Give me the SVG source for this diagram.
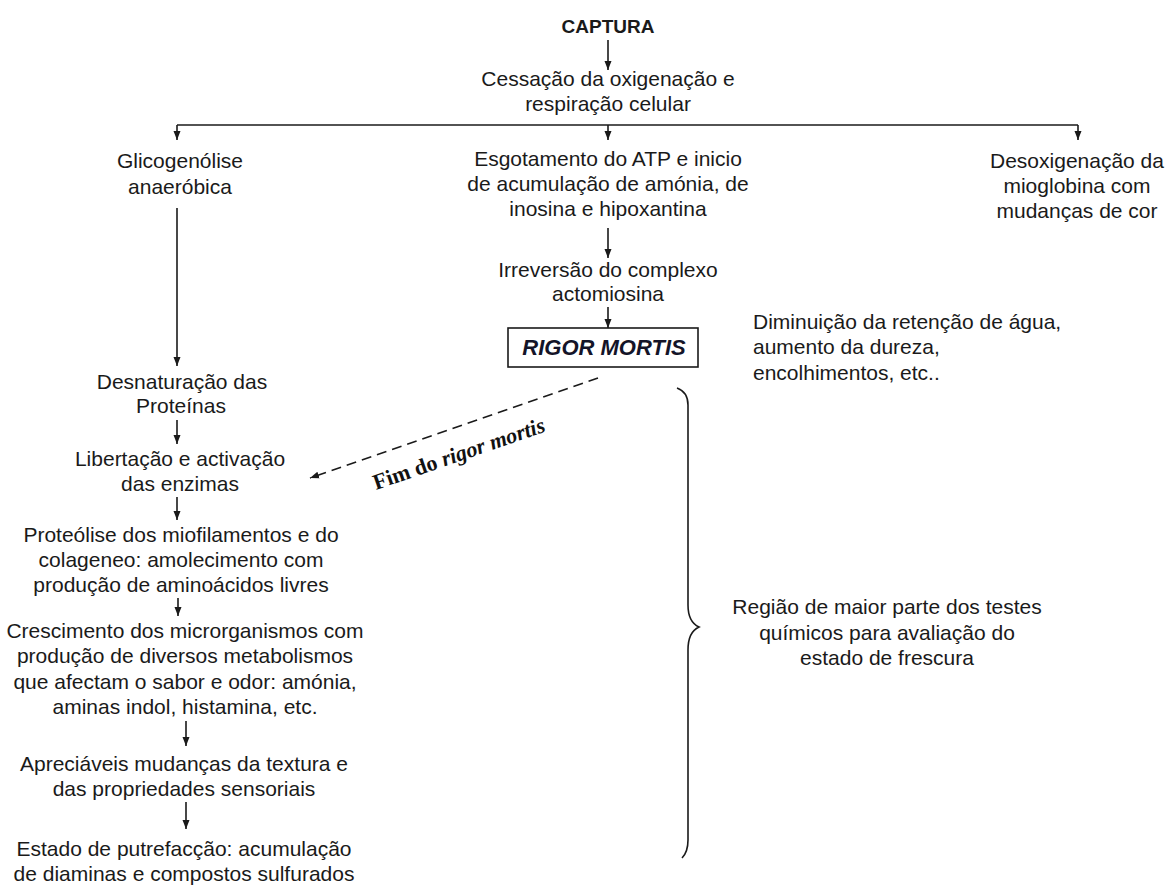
<svg xmlns="http://www.w3.org/2000/svg" width="1169" height="888" viewBox="0 0 1169 888">
<style>
.t{font-family:"Liberation Sans",Arial,sans-serif;font-size:21px;fill:#1a1a1a;text-anchor:middle}
.l{text-anchor:start}
.b{font-weight:bold;font-size:19px}
.rm{font-family:"Liberation Sans",Arial,sans-serif;font-size:22px;font-weight:bold;font-style:italic;fill:#141428;text-anchor:middle}
.fim{font-family:"Liberation Serif","Times New Roman",serif;font-size:22px;font-weight:bold;fill:#111}
.c{stroke:#1a1a1a;stroke-width:1.6;fill:none}
</style>
<defs>
<marker id="ah" markerUnits="userSpaceOnUse" markerWidth="10" markerHeight="10" viewBox="0 0 10 10" refX="9" refY="5" orient="auto">
<path d="M0,1.5 L9,5 L0,8.5 Z" fill="#1a1a1a"/>
</marker>
</defs>
<g id="connectors">
<line class="c" x1="608" y1="40" x2="608" y2="70" marker-end="url(#ah)"/>
<line class="c" x1="177" y1="125" x2="1078" y2="125" stroke-width="2"/>
<line class="c" x1="177" y1="125" x2="177" y2="140" marker-end="url(#ah)"/>
<line class="c" x1="608" y1="125" x2="608" y2="140" marker-end="url(#ah)"/>
<line class="c" x1="1078" y1="125" x2="1078" y2="140" marker-end="url(#ah)"/>
<line class="c" x1="608" y1="228" x2="608" y2="258" marker-end="url(#ah)"/>
<line class="c" x1="608" y1="307" x2="608" y2="328" marker-end="url(#ah)"/>
<line class="c" x1="177" y1="208" x2="177" y2="366" marker-end="url(#ah)"/>
<line class="c" x1="177" y1="420" x2="177" y2="444" marker-end="url(#ah)"/>
<line class="c" x1="177" y1="497" x2="177" y2="520" marker-end="url(#ah)"/>
<line class="c" x1="178" y1="598" x2="178" y2="616" marker-end="url(#ah)"/>
<line class="c" x1="186" y1="721" x2="186" y2="746" marker-end="url(#ah)"/>
<line class="c" x1="186" y1="802" x2="186" y2="829" marker-end="url(#ah)"/>
<line class="c" x1="598" y1="378" x2="310" y2="478" stroke-width="2" stroke-dasharray="10,6" marker-end="url(#ah)"/>
<path class="c" d="M677,388 Q688,392 688,405 L688,605 Q688,622 699,627 Q688,632 688,650 L688,840 Q688,852 682,858" stroke-width="2"/>
</g>
<g id="captura"><text class="t b" x="608" y="33">CAPTURA</text></g>
<g id="cessacao"><text class="t" x="608" y="86">Cessação da oxigenação e</text><text class="t" x="608" y="111">respiração celular</text></g>
<g id="glicogenolise"><text class="t" x="180" y="168">Glicogenólise</text><text class="t" x="180" y="194">anaeróbica</text></g>
<g id="esgotamento"><text class="t" x="608" y="166">Esgotamento do ATP e inicio</text><text class="t" x="608" y="191">de acumulação de amónia, de</text><text class="t" x="608" y="216">inosina e hipoxantina</text></g>
<g id="desoxigenacao"><text class="t" x="1077" y="168">Desoxigenação da</text><text class="t" x="1077" y="193">mioglobina com</text><text class="t" x="1077" y="218">mudanças de cor</text></g>
<g id="irreversao"><text class="t" x="608" y="277">Irreversão do complexo</text><text class="t" x="608" y="301">actomiosina</text></g>
<g id="rigor"><rect x="508" y="328" width="190" height="39" fill="#fff" stroke="#1a1a1a" stroke-width="1.6"/><text class="rm" x="604" y="355">RIGOR MORTIS</text></g>
<g id="diminuicao"><text class="t l" x="753" y="329">Diminuição da retenção de água,</text><text class="t l" x="753" y="354">aumento da dureza,</text><text class="t l" x="753" y="380">encolhimentos, etc..</text></g>
<g id="desnaturacao"><text class="t" x="182" y="389">Desnaturação das</text><text class="t" x="181" y="413">Proteínas</text></g>
<g id="libertacao"><text class="t" x="180" y="466">Libertação e activação</text><text class="t" x="180" y="491">das enzimas</text></g>
<g id="proteolise"><text class="t" x="181" y="542">Proteólise dos miofilamentos e do</text><text class="t" x="181" y="567">colageneo: amolecimento com</text><text class="t" x="181" y="592">produção de aminoácidos livres</text></g>
<g id="crescimento"><text class="t" x="185" y="638">Crescimento dos microrganismos com</text><text class="t" x="185" y="663">produção de diversos metabolismos</text><text class="t" x="185" y="689">que afectam o sabor e odor: amónia,</text><text class="t" x="185" y="714">aminas indol, histamina, etc.</text></g>
<g id="apreciaveis"><text class="t" x="184" y="771">Apreciáveis mudanças da textura e</text><text class="t" x="184" y="796">das propriedades sensoriais</text></g>
<g id="estado"><text class="t" x="184" y="856">Estado de putrefacção: acumulação</text><text class="t" x="184" y="881">de diaminas e compostos sulfurados</text></g>
<g id="fim"><text class="fim" transform="translate(376,490) rotate(-19)">Fim do  <tspan font-style="italic">rigor mortis</tspan></text></g>
<g id="regiao"><text class="t" x="887" y="614">Região de maior parte dos testes</text><text class="t" x="887" y="640">químicos para avaliação do</text><text class="t" x="887" y="665">estado de frescura</text></g>
</svg>
